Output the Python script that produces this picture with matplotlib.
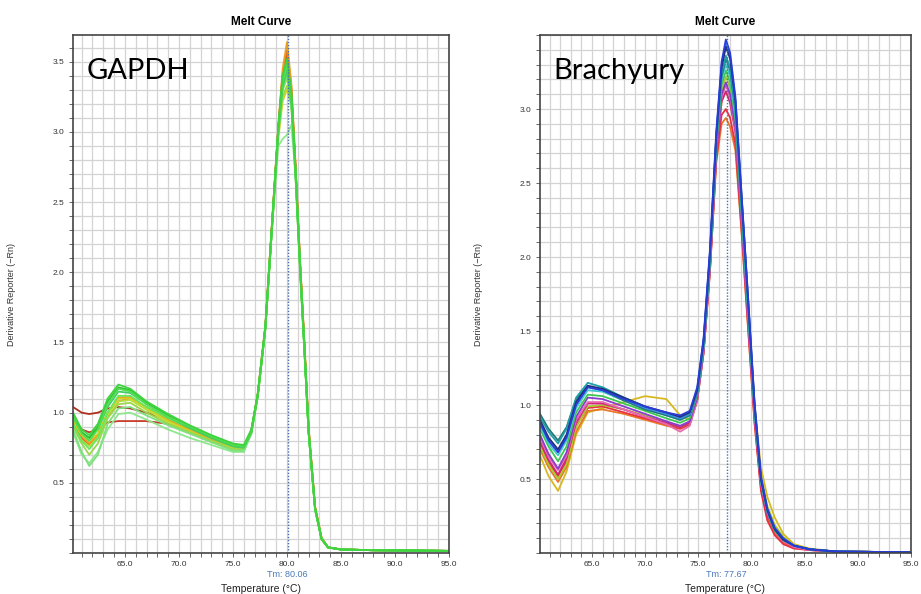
## Melt curves GAPDH / Brachyury ##

import numpy as np
import matplotlib
matplotlib.use('Agg')
import matplotlib.pyplot as plt
from matplotlib.ticker import MultipleLocator, FormatStrFormatter

## Données ##

# GAPDH : températures des points relevés
T_gapdh = [60.2, 61.0, 61.7, 62.5, 63.4, 64.4, 65.5, 67.0, 69.0, 71.0, 73.0, 75.0, 76.0, 76.7,
           77.3, 78.0, 78.6, 79.2, 79.6, 80.0, 80.4, 80.8, 81.2, 81.6, 82.0, 82.6, 83.2, 83.8,
           85.0, 88.0, 95.0]

gapdh_colors = ['#c83a28', '#b03020', '#e07020', '#e8a020', '#d8d020', '#b8e040', '#9ad84a',
                '#8de88d', '#7ee07e', '#66e85a', '#44cc66', '#2fc02f', '#52e052', '#3fd43f']

gapdh_curves = [
    [0.95, 0.88, 0.86, 0.88, 0.93, 0.94, 0.94, 0.94, 0.92, 0.88, 0.82, 0.77, 0.76, 0.87, 1.13, 1.61, 2.32, 3.02, 3.38, 3.50, 3.28, 2.72, 2.07, 1.49, 0.88, 0.32, 0.10, 0.04, 0.025, 0.02, 0.015],
    [1.04, 1.00, 0.99, 1.00, 1.03, 1.04, 1.03, 1.00, 0.95, 0.89, 0.83, 0.77, 0.76, 0.87, 1.13, 1.61, 2.32, 3.03, 3.40, 3.55, 3.30, 2.73, 2.08, 1.50, 0.88, 0.32, 0.10, 0.04, 0.025, 0.02, 0.015],
    [0.93, 0.82, 0.77, 0.82, 0.97, 1.08, 1.10, 1.04, 0.96, 0.89, 0.82, 0.76, 0.75, 0.87, 1.14, 1.62, 2.33, 3.04, 3.42, 3.58, 3.32, 2.75, 2.09, 1.51, 0.89, 0.33, 0.11, 0.04, 0.025, 0.02, 0.015],
    [0.95, 0.84, 0.78, 0.84, 1.00, 1.11, 1.11, 1.04, 0.95, 0.88, 0.81, 0.75, 0.74, 0.86, 1.13, 1.62, 2.34, 3.05, 3.45, 3.64, 3.35, 2.76, 2.10, 1.52, 0.90, 0.33, 0.11, 0.04, 0.025, 0.02, 0.015],
    [0.94, 0.84, 0.80, 0.85, 1.00, 1.10, 1.10, 1.03, 0.94, 0.87, 0.80, 0.75, 0.74, 0.86, 1.13, 1.61, 2.31, 2.95, 3.22, 3.30, 3.20, 2.70, 2.06, 1.48, 0.87, 0.32, 0.10, 0.04, 0.025, 0.02, 0.015],
    [0.91, 0.80, 0.76, 0.82, 0.98, 1.08, 1.09, 1.02, 0.93, 0.86, 0.79, 0.74, 0.73, 0.85, 1.12, 1.60, 2.30, 3.00, 3.30, 3.38, 3.24, 2.70, 2.05, 1.47, 0.86, 0.31, 0.10, 0.04, 0.025, 0.02, 0.015],
    [0.90, 0.78, 0.70, 0.78, 0.96, 1.06, 1.07, 1.00, 0.92, 0.86, 0.80, 0.74, 0.74, 0.86, 1.12, 1.60, 2.30, 2.98, 3.25, 3.33, 3.18, 2.66, 2.02, 1.46, 0.86, 0.31, 0.10, 0.04, 0.025, 0.02, 0.015],
    [0.86, 0.70, 0.64, 0.72, 0.88, 0.99, 1.00, 0.95, 0.88, 0.82, 0.77, 0.72, 0.72, 0.85, 1.12, 1.60, 2.29, 2.90, 2.95, 2.98, 3.05, 2.68, 2.04, 1.46, 0.86, 0.31, 0.10, 0.04, 0.025, 0.02, 0.015],
    [0.88, 0.72, 0.62, 0.70, 0.92, 1.03, 1.04, 0.98, 0.91, 0.85, 0.79, 0.73, 0.73, 0.85, 1.12, 1.60, 2.30, 3.00, 3.30, 3.40, 3.20, 2.66, 2.02, 1.45, 0.85, 0.31, 0.10, 0.04, 0.025, 0.02, 0.015],
    [0.92, 0.80, 0.74, 0.82, 1.00, 1.12, 1.12, 1.04, 0.96, 0.89, 0.82, 0.76, 0.75, 0.86, 1.12, 1.60, 2.30, 3.01, 3.33, 3.42, 3.22, 2.68, 2.04, 1.46, 0.86, 0.31, 0.10, 0.04, 0.025, 0.02, 0.015],
    [0.96, 0.86, 0.82, 0.88, 1.04, 1.15, 1.14, 1.06, 0.97, 0.89, 0.82, 0.76, 0.75, 0.86, 1.12, 1.60, 2.30, 3.00, 3.32, 3.44, 3.22, 2.69, 2.05, 1.47, 0.86, 0.31, 0.10, 0.04, 0.025, 0.02, 0.015],
    [0.98, 0.86, 0.82, 0.90, 1.08, 1.18, 1.16, 1.07, 0.98, 0.90, 0.83, 0.77, 0.76, 0.87, 1.13, 1.61, 2.32, 3.03, 3.38, 3.50, 3.27, 2.71, 2.06, 1.48, 0.87, 0.32, 0.10, 0.04, 0.025, 0.02, 0.015],
    [0.97, 0.85, 0.80, 0.88, 1.06, 1.17, 1.15, 1.06, 0.97, 0.90, 0.83, 0.77, 0.76, 0.87, 1.13, 1.60, 2.31, 3.02, 3.36, 3.48, 3.25, 2.70, 2.05, 1.47, 0.86, 0.31, 0.10, 0.04, 0.025, 0.02, 0.015],
    [1.00, 0.88, 0.84, 0.92, 1.10, 1.20, 1.17, 1.08, 0.99, 0.91, 0.84, 0.78, 0.77, 0.88, 1.14, 1.62, 2.33, 3.04, 3.40, 3.52, 3.28, 2.72, 2.06, 1.48, 0.87, 0.32, 0.10, 0.04, 0.025, 0.02, 0.015],
]

# Brachyury
T_brachy = [60.1, 60.9, 61.8, 62.6, 63.5, 64.6, 66.0, 68.0, 70.0, 72.0, 73.3, 74.2, 74.9, 75.5,
            76.1, 76.7, 77.2, 77.6, 78.0, 78.5, 79.1, 79.7, 80.3, 80.9, 81.5, 82.2, 83.0, 84.0,
            85.5, 88.0, 95.0]

brachy_colors = ['#d8b820', '#e87828', '#e83040', '#a8c830', '#d02878', '#e868b0', '#8a3ccc',
                 '#3cc850', '#40c8d0', '#207878', '#1fa0a8', '#3c8ce8', '#22307a', '#2a3cd8']

brachy_curves = [
    [0.66, 0.52, 0.42, 0.55, 0.80, 0.95, 0.98, 1.02, 1.06, 1.04, 0.93, 0.90, 1.04, 1.36, 1.92, 2.70, 3.05, 3.12, 3.05, 2.86, 2.25, 1.62, 1.00, 0.58, 0.38, 0.24, 0.13, 0.06, 0.03, 0.01, 0.005],
    [0.70, 0.58, 0.48, 0.58, 0.82, 0.96, 0.97, 0.94, 0.90, 0.86, 0.84, 0.87, 1.03, 1.35, 1.90, 2.64, 2.90, 2.94, 2.88, 2.72, 2.14, 1.50, 0.88, 0.44, 0.24, 0.13, 0.07, 0.04, 0.02, 0.01, 0.005],
    [0.74, 0.61, 0.52, 0.62, 0.86, 0.98, 0.99, 0.95, 0.91, 0.87, 0.84, 0.87, 1.03, 1.35, 1.90, 2.66, 2.96, 3.00, 2.94, 2.76, 2.16, 1.52, 0.88, 0.42, 0.22, 0.12, 0.06, 0.03, 0.02, 0.01, 0.005],
    [0.72, 0.60, 0.50, 0.60, 0.85, 0.99, 1.00, 0.97, 0.93, 0.88, 0.85, 0.88, 1.04, 1.36, 1.93, 2.72, 3.12, 3.22, 3.14, 2.90, 2.27, 1.62, 0.97, 0.52, 0.32, 0.19, 0.11, 0.05, 0.025, 0.01, 0.005],
    [0.76, 0.63, 0.53, 0.64, 0.88, 1.01, 1.01, 0.97, 0.92, 0.88, 0.85, 0.88, 1.04, 1.36, 1.92, 2.70, 3.05, 3.12, 3.04, 2.84, 2.22, 1.56, 0.92, 0.46, 0.26, 0.15, 0.08, 0.04, 0.02, 0.01, 0.005],
    [0.78, 0.65, 0.56, 0.66, 0.90, 1.02, 1.02, 0.97, 0.92, 0.87, 0.82, 0.86, 1.03, 1.36, 1.93, 2.72, 3.08, 3.16, 3.08, 2.86, 2.23, 1.57, 0.93, 0.47, 0.27, 0.15, 0.08, 0.04, 0.02, 0.01, 0.005],
    [0.80, 0.67, 0.57, 0.68, 0.92, 1.05, 1.04, 0.99, 0.94, 0.89, 0.86, 0.89, 1.05, 1.37, 1.94, 2.72, 3.10, 3.18, 3.10, 2.88, 2.24, 1.58, 0.94, 0.47, 0.27, 0.15, 0.09, 0.05, 0.025, 0.01, 0.005],
    [0.84, 0.72, 0.62, 0.72, 0.95, 1.07, 1.06, 1.01, 0.96, 0.91, 0.88, 0.91, 1.07, 1.39, 1.96, 2.76, 3.16, 3.26, 3.18, 2.93, 2.28, 1.62, 0.96, 0.48, 0.28, 0.15, 0.09, 0.05, 0.025, 0.01, 0.005],
    [0.86, 0.74, 0.66, 0.76, 0.98, 1.10, 1.09, 1.03, 0.98, 0.93, 0.90, 0.93, 1.08, 1.40, 1.98, 2.78, 3.20, 3.30, 3.22, 2.96, 2.30, 1.64, 0.97, 0.49, 0.28, 0.16, 0.09, 0.05, 0.025, 0.01, 0.005],
    [0.94, 0.84, 0.76, 0.85, 1.04, 1.13, 1.10, 1.03, 0.97, 0.93, 0.90, 0.93, 1.08, 1.41, 1.99, 2.79, 3.22, 3.34, 3.26, 2.99, 2.32, 1.66, 0.98, 0.50, 0.29, 0.16, 0.09, 0.05, 0.025, 0.01, 0.005],
    [0.92, 0.82, 0.74, 0.84, 1.05, 1.15, 1.12, 1.05, 0.99, 0.94, 0.91, 0.94, 1.09, 1.42, 2.00, 2.80, 3.24, 3.36, 3.28, 3.00, 2.33, 1.66, 0.98, 0.50, 0.29, 0.16, 0.09, 0.05, 0.025, 0.01, 0.005],
    [0.88, 0.77, 0.69, 0.79, 1.01, 1.12, 1.10, 1.04, 0.98, 0.94, 0.91, 0.94, 1.10, 1.44, 2.03, 2.83, 3.30, 3.44, 3.36, 3.06, 2.39, 1.71, 1.01, 0.51, 0.30, 0.17, 0.10, 0.05, 0.025, 0.01, 0.005],
    [0.90, 0.78, 0.70, 0.80, 1.02, 1.13, 1.11, 1.05, 0.99, 0.95, 0.92, 0.95, 1.10, 1.43, 2.02, 2.82, 3.28, 3.42, 3.34, 3.05, 2.38, 1.70, 1.00, 0.50, 0.29, 0.16, 0.09, 0.05, 0.025, 0.01, 0.005],
    [0.88, 0.76, 0.68, 0.78, 1.00, 1.12, 1.10, 1.04, 0.99, 0.95, 0.93, 0.96, 1.12, 1.45, 2.05, 2.85, 3.32, 3.47, 3.38, 3.08, 2.40, 1.72, 1.02, 0.52, 0.30, 0.17, 0.10, 0.05, 0.025, 0.01, 0.005],
]

tm_gapdh = 80.06
tm_brachy = 77.67

## Tracé ##

fig = plt.figure(figsize=(9.21, 5.94), dpi=100)
tick_font = 'Liberation Sans'


def melt_panel(rect, T, curves, colors, tm, ymax, ytop_tick, name):
    ax = fig.add_axes(rect)
    for vals, c in zip(curves, colors):
        ax.plot(T, vals, color=c, lw=1.3, solid_joinstyle='round')
    ax.axvline(tm, color='#4a6fb0', lw=1.0, ls=(0, (1, 1.2)))
    ax.set_xlim(T[0], 95.0)
    ax.set_ylim(0, ymax)
    ax.set_xticks(np.arange(65, 96, 5))
    ax.set_yticks(np.arange(0.5, ytop_tick + 0.01, 0.5))
    ax.xaxis.set_major_formatter(FormatStrFormatter('%.1f'))
    ax.yaxis.set_major_formatter(FormatStrFormatter('%.1f'))
    ax.xaxis.set_minor_locator(MultipleLocator(1))
    ax.yaxis.set_minor_locator(MultipleLocator(0.1))
    ax.grid(True, which='both', color='#d3d3d3', lw=0.9)
    ax.set_axisbelow(True)
    ax.tick_params(which='both', direction='out', length=3, width=0.7,
                   color='#666666', labelsize=6, labelcolor='#333333', pad=3)
    for lab in ax.get_xticklabels() + ax.get_yticklabels():
        lab.set_family(tick_font)
    for s in ax.spines.values():
        s.set_color('#444444')
        s.set_linewidth(1.2)
    ax.set_title('Melt Curve', fontsize=8.5, fontweight='bold', family=tick_font, pad=7)
    ax.set_ylabel('Derivative Reporter (\u2212Rn)', fontsize=6.5, family=tick_font,
                  color='#333333')
    ax.yaxis.set_label_coords(-0.153, 0.5)
    ax.set_xlabel('Temperature (\u00b0C)', fontsize=7.5, family=tick_font,
                  color='#222222', labelpad=11)
    ax.text(tm, -0.042, 'Tm: %.2f' % tm, transform=ax.get_xaxis_transform(),
            ha='center', va='center', fontsize=6.5, color='#4a78b8', family=tick_font)
    ax.text(0.035, 0.915, name, transform=ax.transAxes, fontsize=21,
            family=['Lato', 'DejaVu Sans'], va='baseline', ha='left', color='black')
    return ax


melt_panel([0.0793, 0.069, 0.4083, 0.872], T_gapdh, gapdh_curves, gapdh_colors,
           tm_gapdh, 3.69, 3.5, 'GAPDH')
melt_panel([0.5863, 0.069, 0.4025, 0.872], T_brachy, brachy_curves, brachy_colors,
           tm_brachy, 3.5, 3.0, 'Brachyury')

plt.savefig('out.png', dpi=100)
